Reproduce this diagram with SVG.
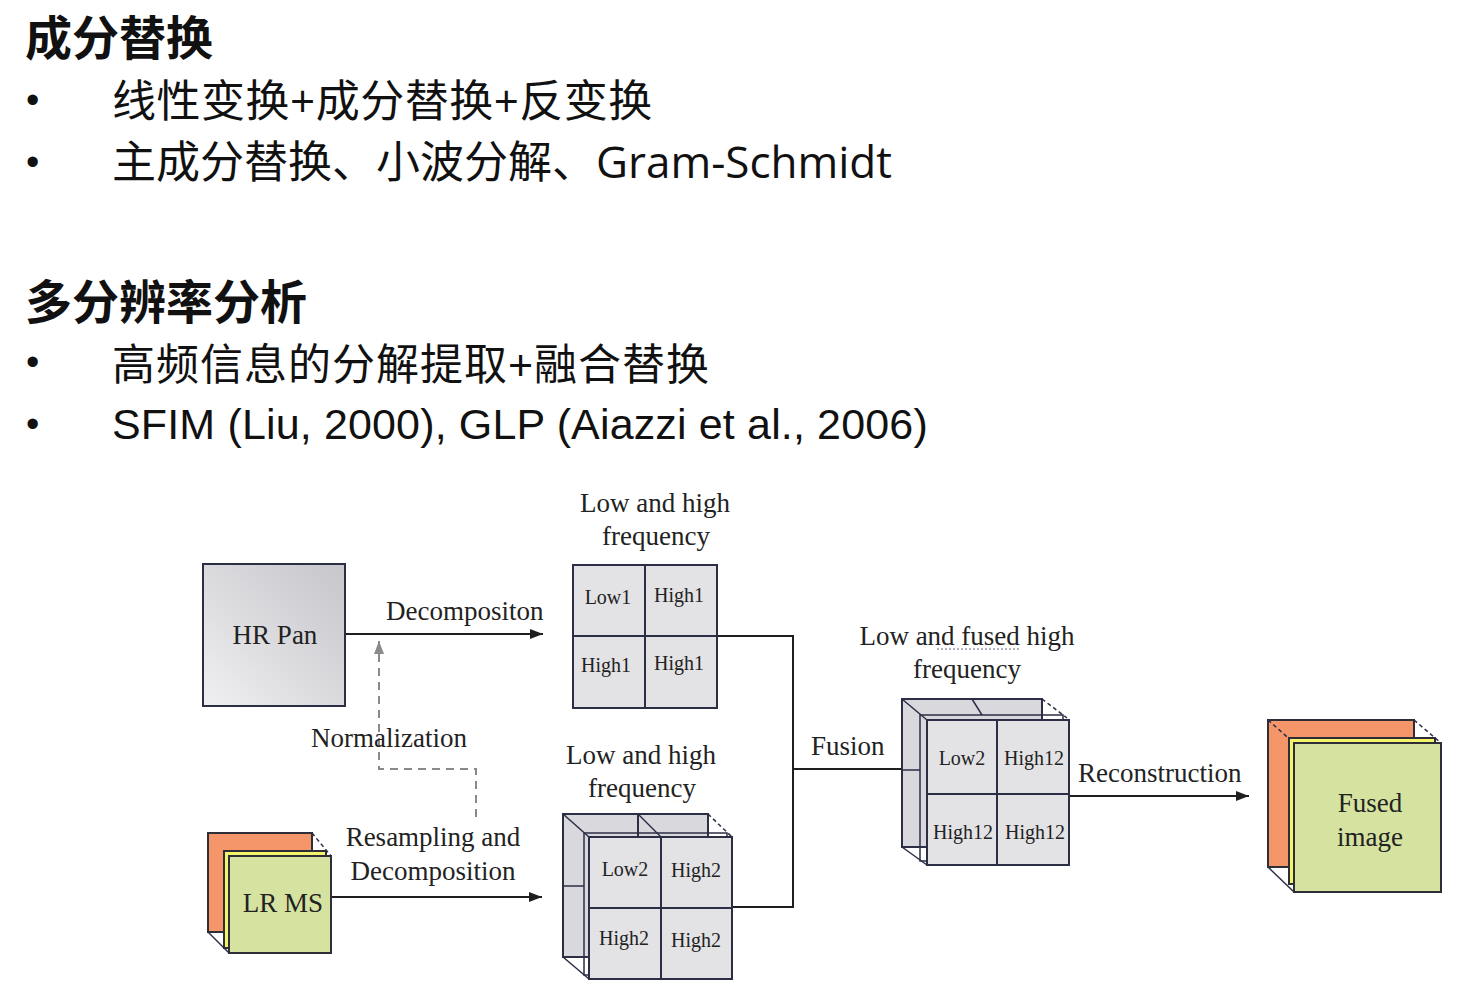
<svg xmlns="http://www.w3.org/2000/svg" width="1463" height="1001" viewBox="0 0 1463 1001">
  <style>
    .h1 { font-family: "Noto Sans CJK SC", "Noto Sans", sans-serif; font-weight: 700; font-size: 47px; fill: #111; }
    .li { font-family: "Open Sans", "Noto Sans CJK SC", sans-serif; font-size: 44px; fill: #111; }
    .la { font-family: "Liberation Sans", "Noto Sans CJK SC", sans-serif; font-size: 43px; fill: #111; }
    .bul { font-family: "Liberation Sans", sans-serif; font-size: 38px; fill: #111; }
    .lbl { font-family: "Liberation Serif", "Times New Roman", serif; font-size: 27px; fill: #222; }
    .cell { font-family: "Liberation Serif", "Times New Roman", serif; font-size: 20px; fill: #222; text-anchor: middle; }
    .mid { text-anchor: middle; }
    .edge { stroke: #1f1f1f; stroke-width: 2; fill: none; }
    .dash { stroke: #8a8a8a; stroke-width: 2; fill: none; stroke-dasharray: 8 6; }
    .frame { stroke: #2b2e45; stroke-width: 2; }
    .thin { stroke: #2b2e45; stroke-width: 1.5; fill: none; }
    .dthin { stroke: #2b2e45; stroke-width: 1.5; fill: none; stroke-dasharray: 4 3; }
    .gray { fill: #e3e3e6; }
    .back { fill: #d9d9dd; }
    .orange { fill: #f5956a; stroke: #2e2e38; stroke-width: 2; }
    .yellow { fill: #f4f46a; stroke: #2e2e38; stroke-width: 2; }
    .green { fill: #d6e3a0; stroke: #2e2e38; stroke-width: 2; }
  </style>
  <defs>
    <linearGradient id="panFill" x1="1" y1="0" x2="0" y2="1">
      <stop offset="0" stop-color="#c6c6cb"/>
      <stop offset="1" stop-color="#efeff1"/>
    </linearGradient>
    <marker id="arrow" markerUnits="userSpaceOnUse" markerWidth="14" markerHeight="10" refX="13" refY="5" orient="auto">
      <path d="M0,0 L13,5 L0,10 z" fill="#1f1f1f"/>
    </marker>
    <marker id="arrowGray" markerUnits="userSpaceOnUse" markerWidth="14" markerHeight="10" refX="13" refY="5" orient="auto">
      <path d="M0,0 L13,5 L0,10 z" fill="#8a8a8a"/>
    </marker>
  </defs>

  <rect width="1463" height="1001" fill="#ffffff"/>

  <!-- Slide text -->
  <g id="slide-text">
    <text class="h1" x="25" y="55">成分替换</text>
    <text class="bul" x="26" y="113">•</text>
    <text class="li" x="112" y="117" letter-spacing="0.5">线性变换+成分替换+反变换</text>
    <text class="bul" x="26" y="175">•</text>
    <text class="li" x="112" y="178">主成分替换、小波分解、Gram-Schmidt</text>
    <text class="h1" x="25" y="319">多分辨率分析</text>
    <text class="bul" x="26" y="375">•</text>
    <text class="la" x="112" y="380" letter-spacing="1">高频信息的分解提取+融合替换</text>
    <text class="bul" x="26" y="437">•</text>
    <text class="la" x="112" y="439" letter-spacing="0.15">SFIM (Liu, 2000), GLP (Aiazzi et al., 2006)</text>
  </g>

  <!-- Connectors -->
  <g id="connectors">
    <line class="edge" x1="345" y1="634" x2="543" y2="634" marker-end="url(#arrow)"/>
    <polyline class="dash" points="476,817 476,769 379,769 379,641" marker-end="url(#arrowGray)"/>
    <line class="edge" x1="331" y1="897" x2="542" y2="897" marker-end="url(#arrow)"/>
    <polyline class="edge" points="717,636 793,636 793,907 733,907"/>
    <line class="edge" x1="793" y1="769" x2="902" y2="769"/>
    <line class="edge" x1="1069" y1="796" x2="1249" y2="796" marker-end="url(#arrow)"/>
    <text class="lbl" x="386" y="620">Decompositon</text>
    <text class="lbl" x="311" y="747" fill="#333">Normalization</text>
    <text class="lbl mid" x="433" y="846">Resampling and</text>
    <text class="lbl mid" x="433" y="880">Decomposition</text>
    <text class="lbl" x="811" y="755">Fusion</text>
    <text class="lbl" x="1078" y="782">Reconstruction</text>
  </g>

  <!-- HR Pan -->
  <g id="hr-pan">
    <rect x="203" y="564" width="142" height="142" fill="url(#panFill)" class="frame"/>
    <text class="lbl mid" x="275" y="644">HR Pan</text>
  </g>

  <!-- LR MS -->
  <g id="lr-ms">
    <rect x="208" y="833" width="104" height="99" class="orange"/>
    <line class="dthin" x1="312" y1="833" x2="331" y2="856"/>
    <line class="thin" x1="208" y1="932" x2="229" y2="953" stroke="#8a8aa0"/>
    <rect x="224" y="851" width="102" height="97" class="yellow"/>
    <rect x="229" y="856" width="102" height="97" class="green"/>
    <text class="lbl mid" x="283" y="912">LR MS</text>
  </g>

  <!-- Pan frequency bands -->
  <g id="pan-bands">
    <text class="lbl mid" x="655" y="512">Low and high</text>
    <text class="lbl mid" x="656" y="545">frequency</text>
    <rect x="573" y="565" width="144" height="143" class="gray frame"/>
    <line class="frame" x1="645" y1="565" x2="645" y2="708"/>
    <line class="frame" x1="573" y1="636" x2="717" y2="636"/>
    <text class="cell" x="608" y="604">Low1</text>
    <text class="cell" x="679" y="602">High1</text>
    <text class="cell" x="606" y="672">High1</text>
    <text class="cell" x="679" y="670">High1</text>
  </g>

  <!-- MS frequency bands -->
  <g id="ms-bands">
    <text class="lbl mid" x="641" y="764">Low and high</text>
    <text class="lbl mid" x="642" y="797">frequency</text>
    <rect x="563" y="814" width="145" height="143" class="back frame"/>
    <line class="frame" x1="638" y1="814" x2="638" y2="837"/>
    <line class="thin" x1="563" y1="814" x2="589" y2="837"/>
    <line class="thin" x1="638" y1="814" x2="661" y2="837"/>
    <line class="dthin" x1="708" y1="814" x2="732" y2="837"/>
    <line class="thin" x1="563" y1="957" x2="589" y2="979"/>
    <line class="thin" x1="563" y1="886" x2="584" y2="886"/>
    <rect x="584" y="833" width="143" height="142" fill="#e6e6ea" class="thin"/>
    <rect x="589" y="837" width="143" height="142" class="gray frame"/>
    <line class="frame" x1="661" y1="837" x2="661" y2="979"/>
    <line class="frame" x1="589" y1="908" x2="732" y2="908"/>
    <text class="cell" x="625" y="876">Low2</text>
    <text class="cell" x="696" y="877">High2</text>
    <text class="cell" x="624" y="945">High2</text>
    <text class="cell" x="696" y="947">High2</text>
  </g>

  <!-- Fused frequency bands -->
  <g id="fused-bands">
    <text class="lbl mid" x="967" y="645">Low and fused high</text>
    <line x1="937" y1="649" x2="1019" y2="649" stroke="#9a9aa8" stroke-width="1.5" stroke-dasharray="2 2"/>
    <text class="lbl mid" x="967" y="678">frequency</text>
    <rect x="902" y="699" width="140" height="148" class="back frame"/>
    <line class="thin" x1="902" y1="699" x2="927" y2="720"/>
    <line class="thin" x1="972" y1="699" x2="982" y2="715"/>
    <line class="dthin" x1="1042" y1="699" x2="1067" y2="718"/>
    <line class="thin" x1="902" y1="847" x2="927" y2="865"/>
    <line class="thin" x1="902" y1="770" x2="920" y2="770"/>
    <rect x="920" y="715" width="143" height="146" fill="#e6e6ea" class="thin"/>
    <rect x="927" y="720" width="142" height="145" class="gray frame"/>
    <line class="frame" x1="997" y1="720" x2="997" y2="865"/>
    <line class="frame" x1="927" y1="794" x2="1069" y2="794"/>
    <text class="cell" x="962" y="765">Low2</text>
    <text class="cell" x="1034" y="765">High12</text>
    <text class="cell" x="963" y="839">High12</text>
    <text class="cell" x="1035" y="839">High12</text>
  </g>

  <!-- Fused image -->
  <g id="fused-image">
    <rect x="1268" y="720" width="146" height="147" class="orange"/>
    <line class="dthin" x1="1268" y1="720" x2="1294" y2="743"/>
    <line class="dthin" x1="1414" y1="720" x2="1441" y2="743"/>
    <line class="thin" x1="1268" y1="867" x2="1294" y2="892"/>
    <rect x="1289" y="738" width="146" height="146" class="yellow"/>
    <rect x="1294" y="743" width="147" height="149" class="green"/>
    <text class="lbl mid" x="1370" y="812">Fused</text>
    <text class="lbl mid" x="1370" y="846">image</text>
  </g>
</svg>
